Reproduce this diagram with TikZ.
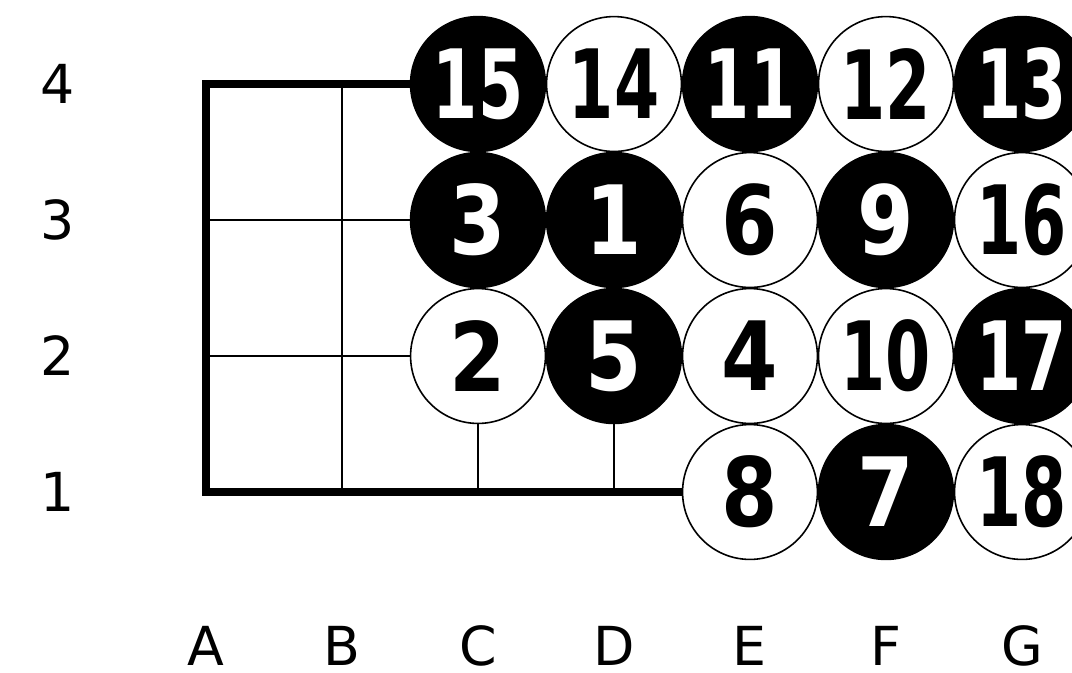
\documentclass[tikz,border=0pt]{standalone}
\usepackage{fontspec}
\setmainfont{DejaVu Sans}
\usepackage{graphicx}
\usepackage{tikz}
\usetikzlibrary{positioning}
\definecolor{stoneblack}{RGB}{0,0,0}
\definecolor{stonewhite}{RGB}{255,255,255}
\newcommand{\onedigit}[1]{\scalebox{0.85}[1]{#1}}
\newcommand{\twodigit}[1]{\scalebox{0.68}[1]{#1}}
\tikzset{
  blackstone/.style={circle, draw=stoneblack, fill=stoneblack, text=stonewhite,
    minimum size=2.38cm, inner sep=0pt, line width=0.8pt,
    font=\fontsize{48}{48}\selectfont\bfseries},
  whitestone/.style={circle, draw=stoneblack, fill=stonewhite, text=stoneblack,
    minimum size=2.38cm, inner sep=0pt, line width=0.8pt,
    font=\fontsize{48}{48}\selectfont\bfseries},
  coordlabel/.style={font=\fontsize{27}{27}\selectfont, inner sep=0pt},
  edgeline/.style={line width=4pt, line join=miter, color=stoneblack},
  gridline/.style={line width=1pt, color=stoneblack}
}

\begin{document}
\begin{tikzpicture}[x=2.4cm, y=2.4cm]
  \useasboundingbox (-1.515,-1.324) rectangle (6.368,3.618);
  \clip (-1.515,-1.324) rectangle (6.368,3.618);
  \fill[white] (-1.515,-1.324) rectangle (6.368,3.618);
  % board points
  \coordinate (a1) at (0,0);
  \coordinate (a2) at (0,1);
  \coordinate (a3) at (0,2);
  \coordinate (a4) at (0,3);
  \coordinate (b1) at (1,0);
  \coordinate (b4) at (1,3);
  \coordinate (c1) at (2,0);
  \coordinate (d1) at (3,0);
  % stones, row 4
  \node[blackstone] (s15) at (2,3) {\twodigit{15}};
  \node[whitestone] (s14) at (3,3) {\twodigit{14}};
  \node[blackstone] (s11) at (4,3) {\twodigit{11}};
  \node[whitestone] (s12) at (5,3) {\twodigit{12}};
  \node[blackstone] (s13) at (6,3) {\twodigit{13}};
  % row 3
  \node[blackstone] (s3) at (2,2) {\onedigit{3}};
  \node[blackstone] (s1) at (3,2) {\onedigit{1}};
  \node[whitestone] (s6) at (4,2) {\onedigit{6}};
  \node[blackstone] (s9) at (5,2) {\onedigit{9}};
  \node[whitestone] (s16) at (6,2) {\twodigit{16}};
  % row 2
  \node[whitestone] (s2) at (2,1) {\onedigit{2}};
  \node[blackstone] (s5) at (3,1) {\onedigit{5}};
  \node[whitestone] (s4) at (4,1) {\onedigit{4}};
  \node[whitestone] (s10) at (5,1) {\twodigit{10}};
  \node[blackstone] (s17) at (6,1) {\twodigit{17}};
  % row 1
  \node[whitestone] (s8) at (4,0) {\onedigit{8}};
  \node[blackstone] (s7) at (5,0) {\onedigit{7}};
  \node[whitestone] (s18) at (6,0) {\twodigit{18}};
  % lines of the board
  \draw[edgeline] (s15) -- (a4) -- (a1) -- (s8);
  \draw[gridline] (b1) -- (b4);
  \draw[gridline] (a3) -- (s3);
  \draw[gridline] (a2) -- (s2);
  \draw[gridline] (c1) -- (s2);
  \draw[gridline] (d1) -- (s5);
  % coordinates
  \node[coordlabel] (row1) at (-1.09,0) {1};
  \node[coordlabel] (row2) at (-1.09,1) {2};
  \node[coordlabel] (row3) at (-1.09,2) {3};
  \node[coordlabel] (row4) at (-1.09,3) {4};
  \node[coordlabel] (colA) at (0,-1.13) {A};
  \node[coordlabel] (colB) at (1,-1.13) {B};
  \node[coordlabel] (colC) at (2,-1.13) {C};
  \node[coordlabel] (colD) at (3,-1.13) {D};
  \node[coordlabel] (colE) at (4,-1.13) {E};
  \node[coordlabel] (colF) at (5,-1.13) {F};
  \node[coordlabel] (colG) at (6,-1.13) {G};
\end{tikzpicture}
\end{document}
